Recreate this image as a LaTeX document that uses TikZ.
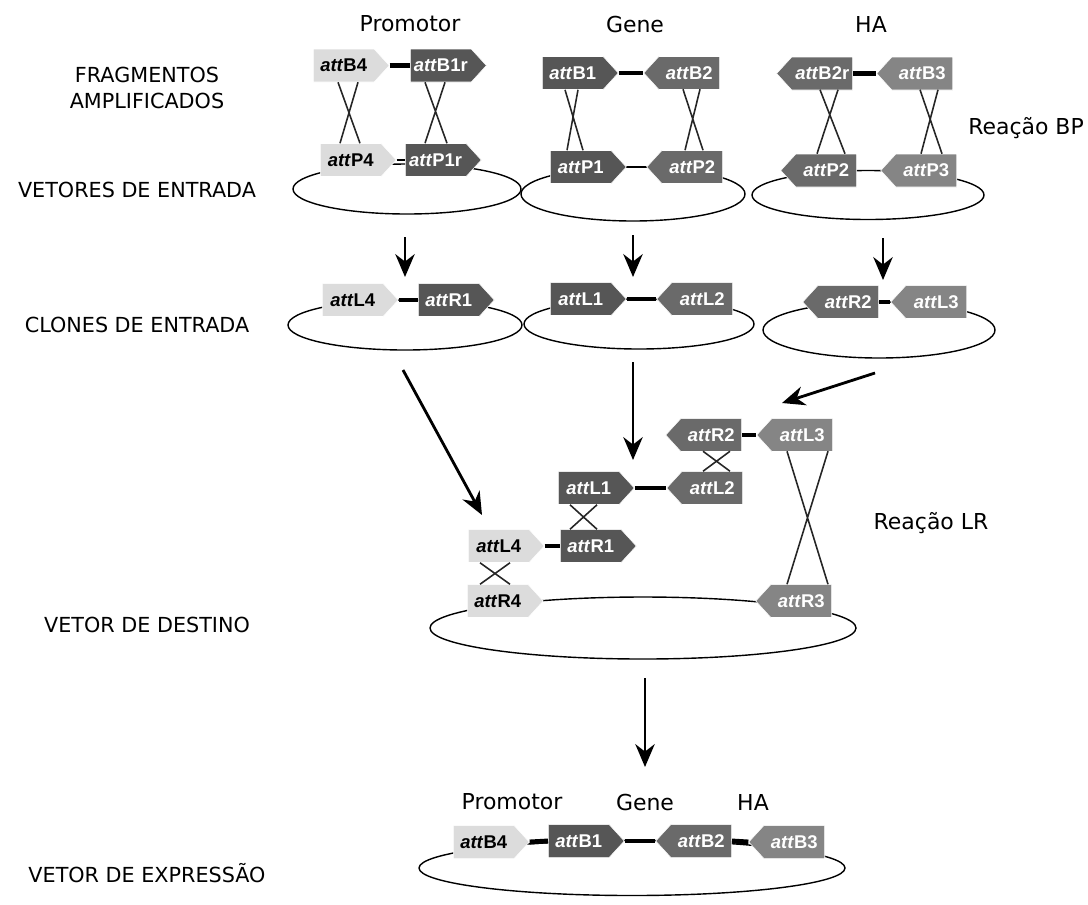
\documentclass[tikz,border=0pt]{standalone}
\usepackage{fontspec}
\setmainfont{Liberation Sans}
\newfontfamily\capfont{DejaVu Sans}
\definecolor{attlight}{HTML}{DCDCDC}
\definecolor{attdark}{HTML}{565656}
\definecolor{attmid}{HTML}{6A6A6A}
\definecolor{attpale}{HTML}{858585}
\usetikzlibrary{shapes.symbols}
\usetikzlibrary{arrows.meta}
\usetikzlibrary{calc}
\newcommand{\att}[1]{\textit{att}#1}

\tikzset{
	site/.style={signal, signal pointer angle=95, minimum height=0.66cm, minimum width=1.52cm,
		inner xsep=2pt, inner ysep=5.6pt, draw=white, line width=0.3pt, text=white,
		font=\bfseries\fontsize{10.5}{12}\selectfont},
	toE/.style={site, signal to=east, anchor=west},
	toW/.style={site, signal to=west, anchor=east},
	light/.style={fill=attlight, text=black},
	dark/.style={fill=attdark},
	mid/.style={fill=attmid},
	pale/.style={fill=attpale},
	bar/.style={line width=2.8pt},
	link/.style={line width=0.85pt},
	cross/.style={line width=0.9pt, black!85},
	plasmid/.style={line width=0.8pt},
	flow/.style={line width=1.6pt, -{Stealth[length=13pt, width=11pt]}},
	head/.style={font=\capfont\fontsize{12.5}{14}\selectfont},
	step label/.style={font=\capfont\fontsize{11.8}{15}\selectfont, align=center}
}

\begin{document}
\begin{tikzpicture}[x=0.02cm, y=-0.02cm]
	\useasboundingbox (0,0) rectangle (1088,904);
	% column titles
	\node[head] (tprom) at (410,24) {Promotor};
	\node[head] (tgene) at (635,24) {Gene};
	\node[head] (tha) at (871,24) {HA};
	% step labels
	\node[step label] (lfrag) at (147,88) {FRAGMENTOS\\AMPLIFICADOS};
	\node[step label] (lvent) at (137,190) {VETORES DE ENTRADA};
	\node[step label] (lclon) at (137,325) {CLONES DE ENTRADA};
	\node[step label] (ldest) at (147,625) {VETOR DE DESTINO};
	\node[step label] (lexpr) at (147,873) {VETOR DE EXPRESSÃO};
	\node[head] (rbp) at (1026,128) {Reação BP};
	\node[head] (rlr) at (931,523) {Reação LR};

	% entry vectors
	\draw[plasmid] (407,189) ellipse (114 and 25);
	\draw[plasmid] (633,194) ellipse (112 and 27);
	\draw[plasmid] (868,195) ellipse (116 and 24.5);
	% entry clones
	\draw[plasmid] (405,325) ellipse (117 and 25);
	\draw[plasmid] (639,324) ellipse (115 and 25);
	\draw[plasmid] (879,330) ellipse (116 and 28);
	% destination and expression vectors
	\draw[plasmid] (643,628) ellipse (213 and 31);
	\draw[plasmid] (632,868) ellipse (213 and 27.5);

	% amplified fragments
	\node[toE, light] (b4) at (313,65.5) {\att{B4}};
	\node[toE, dark] (b1r) at (410,65.5) {\att{B1r}};
	\node[toE, dark] (gb1) at (542,73) {\att{B1}};
	\node[toW, mid] (gb2) at (720,73) {\att{B2}};
	\node[toW, mid] (hb2r) at (853,73.5) {\att{B2r}};
	\node[toW, pale] (hb3) at (953,73.5) {\att{B3}};
	% attP sites
	\node[toE, light] (p4) at (320,160) {\att{P4}};
	\node[toE, dark] (p1r) at (405,160) {\att{P1r}};
	\node[toE, dark] (gp1) at (550,167) {\att{P1}};
	\node[toW, mid] (gp2) at (723,167) {\att{P2}};
	\node[toW, mid] (hp2) at (857,170.5) {\att{P2}};
	\node[toW, pale] (hp3) at (957,170.5) {\att{P3}};
	% entry clones
	\node[toE, light] (cl4) at (322,300) {\att{L4}};
	\node[toE, dark] (cr1) at (418,300) {\att{R1}};
	\node[toE, dark] (cl1) at (550,299) {\att{L1}};
	\node[toW, mid] (cl2) at (733,299) {\att{L2}};
	\node[toW, mid] (cr2) at (879,302) {\att{R2}};
	\node[toW, pale] (cl3) at (967,302) {\att{L3}};
	% LR reaction
	\node[toW, mid] (lr2) at (742,435) {\att{R2}};
	\node[toW, pale] (ll3) at (833,435) {\att{L3}};
	\node[toE, dark] (ll1) at (558,488) {\att{L1}};
	\node[toW, mid] (ll2) at (743,488) {\att{L2}};
	\node[toE, light] (ll4) at (468,546) {\att{L4}};
	\node[toE, dark] (lr1) at (560,546) {\att{R1}};
	\node[toE, light] (lr4) at (467,601) {\att{R4}};
	\node[toW, pale] (lr3) at (832,601) {\att{R3}};
	% expression vector
	\node[head] (bprom) at (512,802) {Promotor};
	\node[head] (bgene) at (645,802) {Gene};
	\node[head] (bha) at (753,802) {HA};
	\node[toE, light] (eb4) at (453,842) {\att{B4}};
	\node[toE, dark] (eb1) at (548,841) {\att{B1}};
	\node[toW, mid] (eb2) at (732,841) {\att{B2}};
	\node[toW, pale] (eb3) at (825,842) {\att{B3}};

	% joins
	\draw[bar] (b4.east) -- (b1r.west);
	\draw[bar] (gb1.east) -- (gb2.west);
	\draw[bar] (hb2r.east) -- (hb3.west);
	\draw[link] (p4.east) -- (p1r.west);
	\draw[link] (gp1.east) -- (gp2.west);
	\draw[link] (hp2.east) -- (hp3.west);
	\draw[bar] (cl4.east) -- (cr1.west);
	\draw[bar] (cl1.east) -- (cl2.west);
	\draw[bar] (cr2.east) -- (cl3.west);
	\draw[bar] (lr2.east) -- (ll3.west);
	\draw[bar] (ll1.east) -- (ll2.west);
	\draw[bar] (ll4.east) -- (lr1.west);
	\draw[bar] (eb4.east) -- (eb1.west);
	\draw[bar] (eb1.east) -- (eb2.west);
	\draw[bar] (eb2.east) -- (eb3.west);

	% crossovers, BP
	\draw[cross] ($(b4.south west)+(25,0)$) -- ($(p4.north west)+(40,0)$)
		($(b4.south west)+(45,0)$) -- ($(p4.north west)+(20,0)$);
	\draw[cross] ($(b1r.south west)+(15,0)$) -- ($(p1r.north west)+(42,0)$)
		($(b1r.south west)+(35,0)$) -- ($(p1r.north west)+(20,0)$);
	\draw[cross] ($(gb1.south west)+(23,0)$) -- ($(gp1.north west)+(33,0)$)
		($(gb1.south west)+(36,0)$) -- ($(gp1.north west)+(17,0)$);
	\draw[cross] ($(gb2.south east)+(-37,0)$) -- ($(gp2.north east)+(-20,0)$)
		($(gb2.south east)+(-20,0)$) -- ($(gp2.north east)+(-38,0)$);
	\draw[cross] ($(hb2r.south east)+(-33,0)$) -- ($(hp2.north east)+(-12,0)$)
		($(hb2r.south east)+(-15,0)$) -- ($(hp2.north east)+(-40,0)$);
	\draw[cross] ($(hb3.south east)+(-33,0)$) -- ($(hp3.north east)+(-15,0)$)
		($(hb3.south east)+(-15,0)$) -- ($(hp3.north east)+(-36,0)$);
	% crossovers, LR
	\draw[cross] ($(lr2.south east)+(-39,0)$) -- ($(ll2.north east)+(-13,0)$)
		($(lr2.south east)+(-12,0)$) -- ($(ll2.north east)+(-40,0)$);
	\draw[cross] ($(ll1.south west)+(12,0)$) -- ($(lr1.north west)+(37,0)$)
		($(ll1.south west)+(39,0)$) -- ($(lr1.north west)+(10,0)$);
	\draw[cross] ($(ll4.south west)+(12,0)$) -- ($(lr4.north west)+(43,0)$)
		($(ll4.south west)+(42,0)$) -- ($(lr4.north west)+(13,0)$);
	\draw[cross] ($(ll3.south east)+(-46,0)$) -- ($(lr3.north east)+(-4,0)$)
		($(ll3.south east)+(-5,0)$) -- ($(lr3.north east)+(-45,0)$);

	% flow arrows
	\coordinate (fa1) at (405,237); \coordinate (fb1) at (405,277);
	\coordinate (fa2) at (633,235); \coordinate (fb2) at (633,277);
	\coordinate (fa3) at (883,238); \coordinate (fb3) at (883,280);
	\coordinate (fa4) at (403,370); \coordinate (fb4) at (482,515);
	\coordinate (fa5) at (633,362); \coordinate (fb5) at (633,460);
	\coordinate (fa6) at (875,373); \coordinate (fb6) at (782,403);
	\coordinate (fa7) at (645,678); \coordinate (fb7) at (645,767);
	\foreach \i in {1,...,7}
	\draw[flow] (fa\i) -- (fb\i);
\end{tikzpicture}
\end{document}
